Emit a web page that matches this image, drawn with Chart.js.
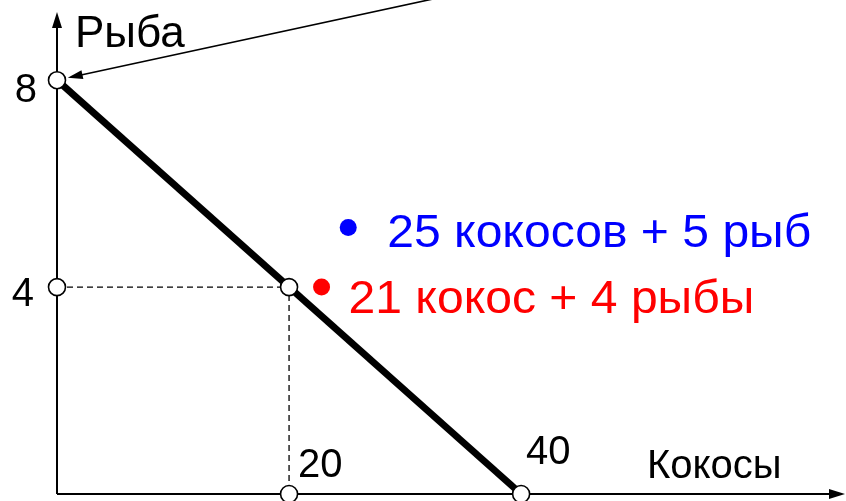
<!DOCTYPE html>
<html>
<head>
<meta charset="utf-8">
<script src="https://cdn.jsdelivr.net/npm/chart.js@4.4.1/dist/chart.umd.min.js"></script>
<style>
  html, body { margin: 0; padding: 0; background: #fff; overflow: hidden; }
  canvas { display: block; }
</style>
</head>
<body>
<canvas id="ppf" width="846" height="501"></canvas>
<script>
// Chart data
const xTicks = [20, 40];          // coconuts
const yTicks = [4, 8];            // fish
const frontier = [{ x: 0, y: 8 }, { x: 40, y: 0 }];
const guideLine = [{ x: 0, y: 4 }, { x: 20, y: 4 }, { x: 20, y: 0 }];
const keyPoints = [
  { x: 0, y: 8 }, { x: 0, y: 4 }, { x: 20, y: 4 }, { x: 20, y: 0 }, { x: 40, y: 0 }
];
const bundleBlue = [{ x: 25.1, y: 5.15 }];
const bundleRed = [{ x: 22.8, y: 4.0 }];
const bundleLabels = ["25 кокосов + 5 рыб", "21 кокос + 4 рыбы"];
const xTitle = "Кокосы";
const yTitle = "Рыба";

const FONT = "'Liberation Sans', Arial, sans-serif";

function arrowHead(ctx, x1, y1, x2, y2, len, half) {
  const a = Math.atan2(y2 - y1, x2 - x1);
  ctx.beginPath();
  ctx.moveTo(x2, y2);
  ctx.lineTo(x2 - len * Math.cos(a) + half * Math.sin(a), y2 - len * Math.sin(a) - half * Math.cos(a));
  ctx.lineTo(x2 - len * Math.cos(a) - half * Math.sin(a), y2 - len * Math.sin(a) + half * Math.cos(a));
  ctx.closePath();
  ctx.fill();
}

// stretched text, the original labels are a bit wider than Liberation Sans
function wideText(ctx, txt, x, y, sx) {
  ctx.save();
  ctx.translate(x, y);
  ctx.scale(sx, 1);
  ctx.fillText(txt, 0, 0);
  ctx.restore();
}

// Axes with arrows, drawn under the datasets
const axesPlugin = {
  id: "axes",
  beforeDatasetsDraw(chart) {
    const { ctx, scales: { x, y }, chartArea } = chart;
    const x0 = x.getPixelForValue(0), y0 = y.getPixelForValue(0);
    ctx.save();
    ctx.strokeStyle = "#000";
    ctx.fillStyle = "#000";
    ctx.lineWidth = 2;
    ctx.beginPath();
    ctx.moveTo(x0, y0);
    ctx.lineTo(x0, chartArea.top + 16);
    ctx.moveTo(x0, y0);
    ctx.lineTo(chartArea.right - 14, y0);
    ctx.stroke();
    arrowHead(ctx, x0, y0, x0, chartArea.top + 12, 16, 5);
    arrowHead(ctx, x0, y0, chartArea.right - 1, y0, 16, 5);

    // pointer to the (0, 8) point coming from above the frame
    const px = x.getPixelForValue(0), py = y.getPixelForValue(8);
    const sx = x.getPixelForValue(32.8), sy = chartArea.top - 2;
    const a = Math.atan2(py - sy, px - sx);
    const tx = px - 11 * Math.cos(a), ty = py - 11 * Math.sin(a);
    ctx.lineWidth = 1.6;
    ctx.beginPath();
    ctx.moveTo(sx, sy);
    ctx.lineTo(tx - 10 * Math.cos(a), ty - 10 * Math.sin(a));
    ctx.stroke();
    arrowHead(ctx, sx, sy, tx, ty, 15, 4.5);
    ctx.restore();
  }
};

// Text labels
const labelsPlugin = {
  id: "labels",
  afterDatasetsDraw(chart) {
    const { ctx, scales: { x, y } } = chart;
    const x0 = x.getPixelForValue(0), y0 = y.getPixelForValue(0);
    ctx.save();
    ctx.textBaseline = "alphabetic";
    ctx.fillStyle = "#000";
    ctx.font = "40px " + FONT;
    ctx.textAlign = "right";
    ctx.fillText(String(yTicks[1]), x0 - 20, y.getPixelForValue(yTicks[1]) + 22);
    ctx.fillText(String(yTicks[0]), x0 - 23, y.getPixelForValue(yTicks[0]) + 19);
    ctx.textAlign = "left";
    ctx.fillText(String(xTicks[0]), x.getPixelForValue(xTicks[0]) + 9, y0 - 17);
    ctx.fillText(String(xTicks[1]), x.getPixelForValue(xTicks[1]) + 5, y0 - 30);
    ctx.fillText(xTitle, 647, y0 - 16);
    ctx.font = "44px " + FONT;
    ctx.fillText(yTitle, x0 + 18, 47);

    ctx.font = "46px " + FONT;
    ctx.fillStyle = "#0000ff";
    wideText(ctx, bundleLabels[0], x.getPixelForValue(bundleBlue[0].x) + 39, y.getPixelForValue(bundleBlue[0].y) + 19, 1.045);
    ctx.fillStyle = "#ff0000";
    wideText(ctx, bundleLabels[1], x.getPixelForValue(bundleRed[0].x) + 27, y.getPixelForValue(bundleRed[0].y) + 26, 1.045);
    ctx.restore();
  }
};

new Chart(document.getElementById("ppf"), {
  type: "scatter",
  data: {
    datasets: [
      {
        data: keyPoints, showLine: false, order: 1, clip: false,
        pointRadius: 8.5, pointBackgroundColor: "#fff",
        pointBorderColor: "#000", pointBorderWidth: 1.6
      },
      {
        data: bundleBlue, showLine: false, order: 1, clip: false,
        pointRadius: 8.5, pointBackgroundColor: "#0000ff", pointBorderWidth: 0
      },
      {
        data: bundleRed, showLine: false, order: 1, clip: false,
        pointRadius: 8.5, pointBackgroundColor: "#ff0000", pointBorderWidth: 0
      },
      {
        data: frontier, showLine: true, order: 2, clip: false,
        borderColor: "#000", borderWidth: 7, pointRadius: 0
      },
      {
        data: guideLine, showLine: true, order: 3, clip: false,
        borderColor: "#000", borderWidth: 1.3, borderDash: [6, 4], pointRadius: 0
      }
    ]
  },
  options: {
    responsive: false,
    animation: false,
    layout: { autoPadding: false, padding: { left: 57, right: 0, top: 0, bottom: 7 } },
    plugins: { legend: { display: false }, tooltip: { enabled: false } },
    scales: {
      x: { type: "linear", min: 0, max: 68, display: false },
      y: { type: "linear", min: 0, max: 9.55, display: false }
    }
  },
  plugins: [axesPlugin, labelsPlugin]
});
</script>
</body>
</html>
